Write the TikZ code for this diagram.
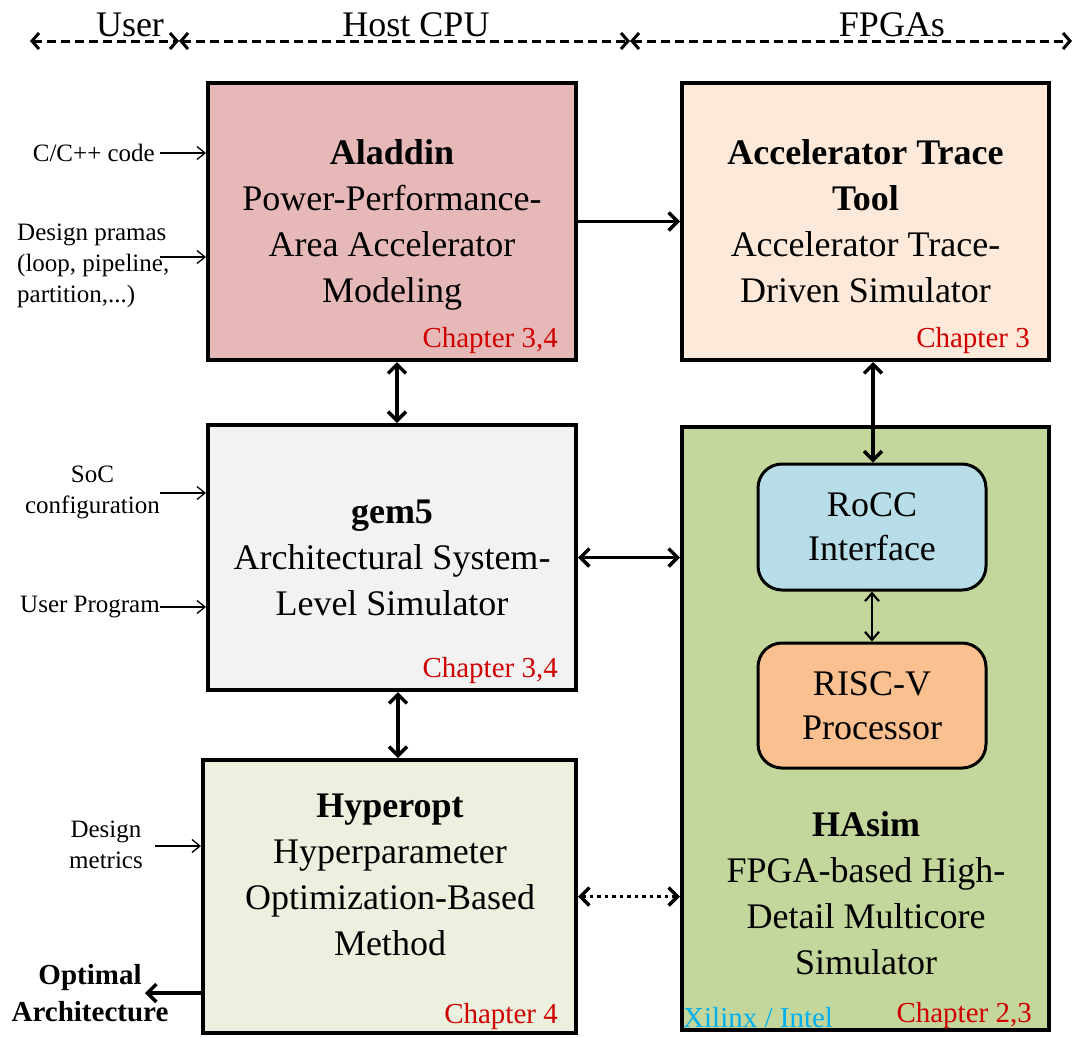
\documentclass[tikz,border=0pt]{standalone}
\usepackage{fontspec}
\setmainfont{Liberation Serif}
\usetikzlibrary{positioning, arrows.meta}

\definecolor{aladdinfill}{HTML}{E6B9B8}
\definecolor{tracefill}{HTML}{FDE9D9}
\definecolor{gemfill}{HTML}{F2F2F2}
\definecolor{hasimfill}{HTML}{C3D69B}
\definecolor{hyperfill}{HTML}{EBF1DE}
\definecolor{roccfill}{HTML}{B7DEE8}
\definecolor{riscfill}{HTML}{FAC090}
\definecolor{chapred}{HTML}{D00000}
\definecolor{xilinxblue}{HTML}{00B0F0}

\begin{document}
\begin{tikzpicture}[x=1pt, y=-1pt,
	box/.style={rectangle, draw, line width=4pt, align=center, text depth=0pt, font=\fontsize{36}{46}\selectfont},
	boxtext/.style={align=center, inner sep=0pt, font=\fontsize{36}{46}\selectfont},
	subbox/.style={rectangle, rounded corners=24pt, draw, line width=3pt, align=center, minimum width=228pt, minimum height=126pt, font=\fontsize{36}{44}\selectfont},
	chap/.style={text=chapred, inner sep=0pt, anchor=base east, font=\fontsize{29}{33}\selectfont},
	inlabel/.style={inner sep=0pt, align=center, font=\fontsize{25}{31}\selectfont},
	hdr/.style={inner sep=0pt, anchor=base, font=\fontsize{36}{40}\selectfont},
	barb/.tip={Straight Barb[length=9pt, width=18pt]},
	bigarrow/.style={line width=3.5pt, barb-barb},
	onearrow/.style={line width=3.5pt, -barb},
	inarrow/.style={line width=1.3pt, -{Straight Barb[length=8pt, width=13pt]}},
	hdrline/.style={line width=3pt, dash pattern=on 9pt off 5pt, {Straight Barb[length=7pt, width=16pt]}-{Straight Barb[length=7pt, width=16pt]}}
]
\useasboundingbox (0,0) rectangle (1077,1037);

% Kopfzeile
\coordinate (userl) at (30,41);
\coordinate (userr) at (179,41);
\coordinate (hostr) at (630,41);
\coordinate (fpgar) at (1072,41);
\draw[hdrline] (userl) -- (userr);
\draw[hdrline] (userr) -- (hostr);
\draw[hdrline] (hostr) -- (fpgar);
\node[hdr] (user) at (130,36) {User};
\node[hdr] (host) at (416,36) {Host CPU};
\node[hdr] (fpga) at (892,36) {FPGAs};

% Aladdin
\node[box, fill=aladdinfill, minimum width=368pt, minimum height=277pt] (aladdin) at (392,221.5)
	{\textbf{Aladdin}\\Power-Performance-\\Area Accelerator\\Modeling};
\node[chap] (chapaladdin) at (558,347) {Chapter 3,4};

% Accelerator Trace Tool
\node[box, fill=tracefill, minimum width=367pt, minimum height=277pt] (trace) at (865.5,221.5)
	{\textbf{Accelerator Trace}\\\textbf{Tool}\\Accelerator Trace-\\Driven Simulator};
\node[chap] (chaptrace) at (1030,347) {Chapter 3};

% gem5
\node[box, fill=gemfill, minimum width=368pt, minimum height=265pt] (gem5) at (392,557.5)
	{\textbf{gem5}\\Architectural System-\\Level Simulator};
\node[chap] (chapgem) at (558,677) {Chapter 3,4};

% Hyperopt
\node[box, fill=hyperfill, minimum width=373pt, minimum height=273pt] (hyperopt) at (389.5,896.5) {};
\node[boxtext] (hypertext) at (390,875)
	{\textbf{Hyperopt}\\Hyperparameter\\Optimization-Based\\Method};
\node[chap] (chaphyper) at (558,1023) {Chapter 4};

% HAsim mit RoCC und RISC-V
\node[box, fill=hasimfill, minimum width=367pt, minimum height=603pt] (hasim) at (865.5,728.5) {};
\node[boxtext] (hasimtext) at (866,893)
	{\textbf{HAsim}\\FPGA-based High-\\Detail Multicore\\Simulator};
\node[chap] (chaphasim) at (1032,1022) {Chapter 2,3};
\node[inner sep=0pt, anchor=base west, text=xilinxblue, font=\fontsize{29}{33}\selectfont] (xilinx) at (683,1027) {Xilinx / Intel};
\node[subbox, fill=roccfill] (rocc) at (872,527) {RoCC\\Interface};
\node[subbox, fill=riscfill, minimum height=125pt] (riscv) at (872,705.5) {RISC-V\\Processor};

% Eingaben links
\node[inlabel, anchor=east] (ccode) at (155,153) {C/C++ code};
\node[inlabel, align=left, anchor=west] (pramas) at (17,266) {Design pramas\\(loop, pipeline,\\partition,...)};
\coordinate (pramasin) at (160,257);
\node[inlabel, anchor=east] (soc) at (160,492) {SoC\\configuration};
\node[inlabel, anchor=east] (userprog) at (160,607) {User Program};
\node[inlabel, anchor=east] (metrics) at (143,845) {Design\\metrics};
\coordinate (metricsin) at (155,846);
\node[inlabel, font=\bfseries\fontsize{29}{37}\selectfont] (optimal) at (90,993) {Optimal\\Architecture};
\coordinate (optout) at (145,993);

\draw[inarrow] ([xshift=5]ccode.east) -- (ccode.east -| aladdin.west);
\draw[inarrow] (pramasin) -- (pramasin -| aladdin.west);
\draw[inarrow] (soc.east |- 0,493) -- (gem5.west |- 0,493);
\draw[inarrow] (userprog.east) -- (userprog.east -| gem5.west);
\draw[inarrow] (metricsin) -- (metricsin -| hyperopt.west);
\draw[onearrow] (hyperopt.west |- optout) -- (optout);

% Verbindungen
\draw[bigarrow] ([xshift=5]aladdin.south) -- ([xshift=5]aladdin.south |- gem5.north);
\draw[bigarrow] ([xshift=6]gem5.south) -- ([xshift=6]gem5.south |- hyperopt.north);
\draw[onearrow] (aladdin.east) -- (trace.west);
\draw[bigarrow] (gem5.east) -- (gem5.east -| hasim.west);
\draw[bigarrow, dash pattern=on 3.5pt off 4pt] (hyperopt.east) -- (hyperopt.east -| hasim.west);
\draw[bigarrow] ([xshift=1]trace.south -| rocc.north) -- ([xshift=1]rocc.north);
\draw[line width=2.2pt, {Straight Barb[length=8pt, width=14pt]}-{Straight Barb[length=8pt, width=14pt]}] (rocc.south) -- (riscv.north);
\end{tikzpicture}
\end{document}
